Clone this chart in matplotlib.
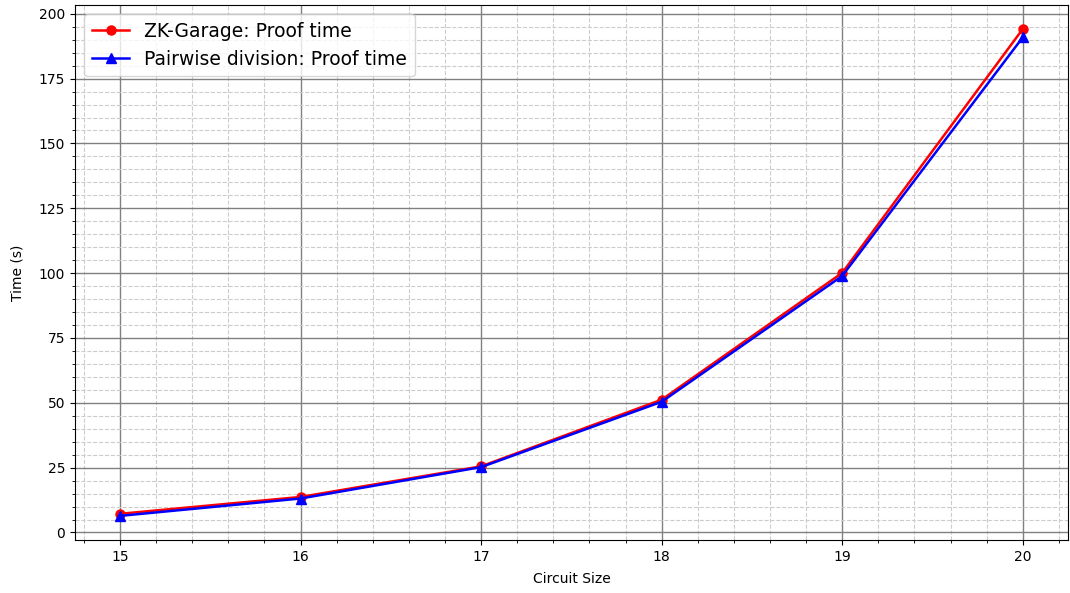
import matplotlib.pyplot as plt
from matplotlib.ticker import AutoMinorLocator

circuit_size = [15, 16, 17, 18, 19, 20]
zk_garage_time = [7.2, 13.7, 25.5, 51.2, 100.1, 194.1]
pairwise_time = [6.4, 13.1, 25.2, 50.4, 98.9, 190.9]

fig, ax = plt.subplots(figsize=(10.7, 5.93), dpi=100)
ax.plot(circuit_size, zk_garage_time, color='red', marker='o', linewidth=1.8,
        markersize=6.5, label="ZK-Garage: Proof time")
ax.plot(circuit_size, pairwise_time, color='blue', marker='^', linewidth=1.8,
        markersize=6.5, label="Pairwise division: Proof time")

ax.set_xlabel("Circuit Size", labelpad=6)
ax.set_ylabel("Time (s)", labelpad=10)
ax.xaxis.set_minor_locator(AutoMinorLocator())
ax.yaxis.set_minor_locator(AutoMinorLocator())
ax.grid(which='major', color='grey', linestyle='-', linewidth=1)
ax.grid(which='minor', color='#cccccc', linestyle='--', linewidth=0.8)
ax.legend(loc='upper left', fontsize=13.5)

fig.subplots_adjust(left=0.070, right=0.998, top=0.992, bottom=0.089)
plt.savefig("out.png", dpi=100)
